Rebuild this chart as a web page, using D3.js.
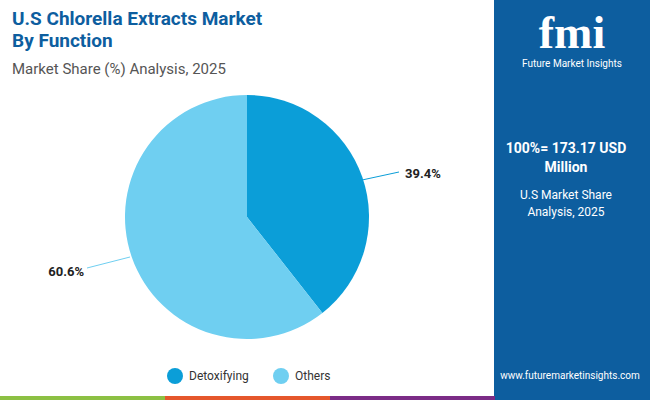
<!DOCTYPE html>
<html><head><meta charset="utf-8">
<script src="https://cdn.jsdelivr.net/npm/d3@7"></script>
<style>body{margin:0;font-family:Roboto,sans-serif}</style>
</head><body>
<svg id="c" width="650" height="400"></svg>
<script>
const categories = ["Detoxifying","Others"];
const values = [39.4,60.6];
const colors = ["#0b9ed8","#6fcff1"];
const svg = d3.select("#c");
svg.append("rect").attr("width",650).attr("height",400).attr("fill","#fff");
svg.append("rect").attr("x",494).attr("width",156).attr("height",400).attr("fill","#0d5e9f");
[["#8cc043",0],["#e5572c",165],["#7b2c86",330]].forEach(([c,x])=>svg.append("rect").attr("x",x).attr("y",396).attr("width",165).attr("height",4).attr("fill",c));
svg.append("text").attr("x",12).attr("y",25).attr("font-size",19).attr("font-weight","bold").attr("fill","#0d5e9f").text("U.S Chlorella Extracts Market");
svg.append("text").attr("x",12).attr("y",47).attr("font-size",19).attr("font-weight","bold").attr("fill","#0d5e9f").text("By Function");
svg.append("text").attr("x",12).attr("y",74).attr("font-size",15).attr("fill","#555").text("Market Share (%) Analysis, 2025");
const cx=247, cy=217, r=122;
const pie=d3.pie().sort(null)(values);
const arc=d3.arc().innerRadius(0).outerRadius(r);
const g=svg.append("g").attr("transform",`translate(${cx},${cy})`);
g.selectAll("path").data(pie).join("path").attr("d",arc).attr("fill",(d,i)=>colors[i]);
const lab=[{s:[115,-37],e:[152,-45],t:[158,-39],a:"start"},{s:[-117,40],e:[-160,51],t:[-163,59],a:"end"}];
pie.forEach((d,i)=>{
  const L=lab[i];
  g.append("line").attr("x1",L.s[0]).attr("y1",L.s[1]).attr("x2",L.e[0]).attr("y2",L.e[1]).attr("stroke",colors[i]).attr("stroke-width",1);
  g.append("text").attr("x",L.t[0]).attr("y",L.t[1]).attr("text-anchor",L.a).attr("font-size",13).attr("font-weight","bold").attr("fill","#222").text(values[i].toFixed(1)+"%");
});
const lg=svg.append("g");
const lx=[175,281];
categories.forEach((c,i)=>{
  lg.append("circle").attr("cx",lx[i]).attr("cy",376).attr("r",8).attr("fill",colors[i]);
  lg.append("text").attr("x",lx[i]+14).attr("y",380).attr("font-size",12).attr("fill","#333").text(c);
});
// right panel
svg.append("text").attr("x",572).attr("y",48).attr("text-anchor","middle").attr("font-size",46).attr("font-weight","bold").attr("font-family","serif").attr("fill","#fff").text("fmi");
svg.append("text").attr("x",572).attr("y",67).attr("text-anchor","middle").attr("font-size",10).attr("fill","#fff").text("Future Market Insights");
svg.append("text").attr("x",566).attr("y",153).attr("text-anchor","middle").attr("font-size",14).attr("font-weight","bold").attr("fill","#fff").text("100%= 173.17 USD");
svg.append("text").attr("x",566).attr("y",172).attr("text-anchor","middle").attr("font-size",14).attr("font-weight","bold").attr("fill","#fff").text("Million");
svg.append("text").attr("x",566).attr("y",199).attr("text-anchor","middle").attr("font-size",12).attr("fill","#fff").text("U.S Market Share");
svg.append("text").attr("x",566).attr("y",216).attr("text-anchor","middle").attr("font-size",12).attr("fill","#fff").text("Analysis, 2025");
svg.append("text").attr("x",570).attr("y",379).attr("text-anchor","middle").attr("font-size",10).attr("fill","#fff").text("www.futuremarketinsights.com");
</script></body></html>
